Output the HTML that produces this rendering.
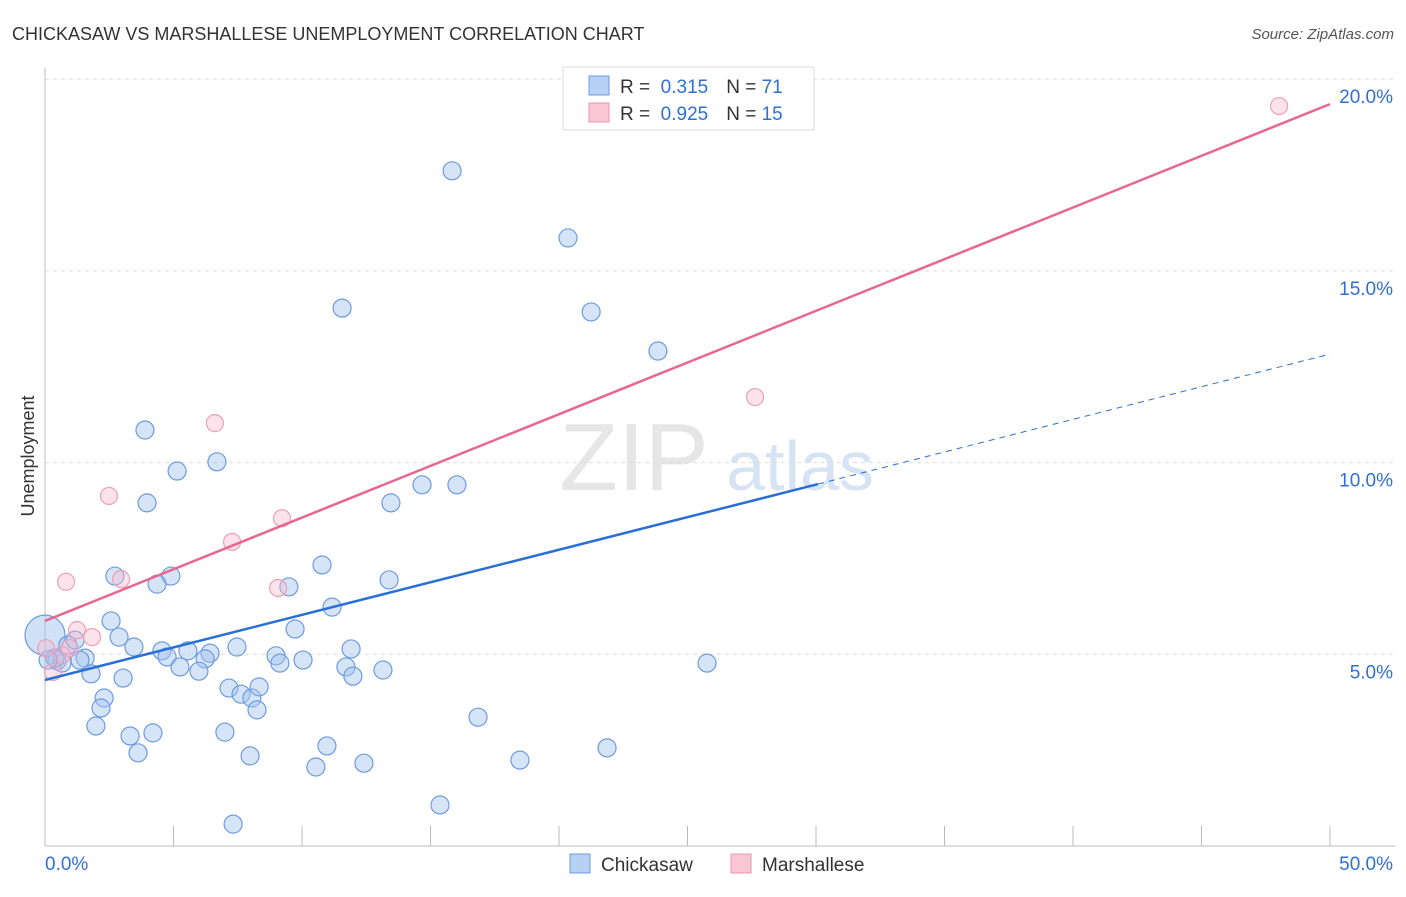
<!DOCTYPE html>
<html><head><meta charset="utf-8"><style>
body{margin:0;background:#fff;font-family:"Liberation Sans",sans-serif}
svg text{font-family:"Liberation Sans",sans-serif}
</style></head><body>
<svg id="c" width="1406" height="892">
<text x="12" y="40" font-size="18" fill="#333">CHICKASAW VS MARSHALLESE UNEMPLOYMENT CORRELATION CHART</text>
<text x="1394" y="39" font-size="15" fill="#555" font-style="italic" text-anchor="end">Source: ZipAtlas.com</text>
<text x="634" y="490" font-size="96" fill="#e6e6e6" font-family="Liberation Serif" text-anchor="middle">ZIP</text>
<text x="800" y="490" font-size="70" fill="#d6e3f5" text-anchor="middle">atlas</text>
<text x="34" y="456" font-size="18" fill="#333" text-anchor="middle" transform="rotate(-90 34 456)">Unemployment</text>
<g id="grid"></g><g id="marks"></g>
<g>
<rect x="563" y="67" width="251" height="63" fill="#fff" stroke="#ddd"/>
<rect x="589" y="76" width="20" height="19" fill="#b7d0f4" stroke="#6d9be0"/>
<rect x="589" y="103" width="20" height="19" fill="#f9c6d5" stroke="#e997b1"/>
<text x="620" y="93" font-size="19" fill="#333">R = <tspan fill="#2f6fd6">&#160;0.315</tspan><tspan dx="18">N = </tspan><tspan fill="#2f6fd6">71</tspan></text>
<text x="620" y="120" font-size="19" fill="#333">R = <tspan fill="#2f6fd6">&#160;0.925</tspan><tspan dx="18">N = </tspan><tspan fill="#2f6fd6">15</tspan></text>
</g>
<g>
<rect x="570" y="854" width="20" height="19" fill="#b7d0f4" stroke="#6d9be0"/>
<text x="601" y="871" font-size="19" fill="#333">Chickasaw</text>
<rect x="731" y="854" width="20" height="19" fill="#f9c6d5" stroke="#e997b1"/>
<text x="762" y="871" font-size="19" fill="#333">Marshallese</text>
</g>
</svg>
<script>
const blueX=[15.84,20.35,11.56,21.25,23.85,3.89,5.14,6.69,3.97,13.46,14.67,16.03,2.72,4.90,4.36,9.49,10.78,13.39,11.17,2.57,2.88,3.46,9.73,11.91,7.47,4.55,5.56,6.42,4.75,6.23,5.25,5.99,8.99,9.14,10.04,11.71,11.98,13.15,25.76,0.89,1.17,0.47,0.66,1.56,1.36,1.79,3.04,2.30,2.18,7.16,7.63,8.05,8.33,8.25,1.98,3.31,4.20,7.00,3.62,7.98,10.97,10.54,12.41,16.85,18.48,21.87,15.37,7.32,0.39,0.12];
const blueY=[17.61,15.86,14.03,13.93,12.91,10.85,9.78,10.02,8.95,8.95,9.42,9.42,7.04,7.04,6.83,6.76,7.33,6.94,6.23,5.87,5.45,5.19,5.66,5.14,5.19,5.09,5.09,5.03,4.93,4.88,4.67,4.56,4.96,4.77,4.85,4.67,4.43,4.59,4.77,5.24,5.37,4.83,4.77,4.90,4.85,4.49,4.38,3.86,3.60,4.12,3.96,3.86,4.15,3.55,3.13,2.87,2.95,2.97,2.43,2.35,2.61,2.06,2.16,3.36,2.24,2.56,1.07,0.57,4.90,4.85];
const pinkX=[48.02,27.63,6.61,2.49,9.22,7.28,0.82,2.96,9.07,1.25,1.83,0.97,0.04,0.31,0.66];
const pinkY=[19.30,11.71,11.03,9.13,8.55,7.93,6.89,6.96,6.73,5.63,5.45,5.16,5.16,4.54,4.98];
const yTicks=[5,10,15,20];
const xTicks=[0,5,10,15,20,25,30,35,40,45,50];
const blueLine=[4.33,9.44,12.83]; // y at x=0, solid end, x=50
const blueSolidEnd=30.08;
const pinkLine=[5.87,19.35];
const NS="http://www.w3.org/2000/svg";
const sx=v=>45+v*25.7, sy=v=>846-v*38.34;
function mk(t,a,p){const e=document.createElementNS(NS,t);for(const k in a)e.setAttribute(k,a[k]);p.appendChild(e);return e;}
const g=document.getElementById('grid'),m=document.getElementById('marks');
yTicks.forEach(t=>{
 const l=mk('line',{x1:45,x2:1395,y1:sy(t),y2:sy(t),stroke:'#ddd','stroke-dasharray':'4,4'},g);
 
 
 const tx=mk('text',{x:1393,y:sy(t)+24,'font-size':19,fill:'#2f6fd6','text-anchor':'end'},g);tx.textContent=t.toFixed(1)+'%';
 
 
});
xTicks.forEach(t=>{
 const l=mk('line',{x1:sx(t),x2:sx(t),y1:826,y2:846,stroke:'#bbb'},g);
 
 
});
mk('line',{x1:45,x2:1395,y1:846,y2:846,stroke:'#bbb'},g);
mk('line',{x1:45,x2:45,y1:68,y2:846,stroke:'#bbb'},g);
[[0,'start',45],[50,'end',1393]].forEach(([v,a,x])=>{const t=mk('text',{x:x,y:870,'font-size':19,fill:'#2f6fd6','text-anchor':a},g);t.textContent=v.toFixed(1)+'%';
 
 });
// big circle
const big=mk('circle',{cx:sx(0),cy:sy(5.5),r:20,fill:'rgba(164,196,240,0.5)',stroke:'#6d9be0','stroke-width':1.2},m);


blueX.forEach((x,i)=>{const c=mk('circle',{cx:sx(x),cy:sy(blueY[i]),r:9,fill:'rgba(164,196,240,0.45)',stroke:'#6d9be0','stroke-width':1.2},m);
 
 });
pinkX.forEach((x,i)=>{const c=mk('circle',{cx:sx(x),cy:sy(pinkY[i]),r:8.5,fill:'rgba(248,185,205,0.4)',stroke:'#ec9fb8','stroke-width':1.2},m);
 
 });
let l=mk('line',{x1:sx(0),y1:sy(blueLine[0]),x2:sx(blueSolidEnd),y2:sy(blueLine[1]),stroke:'#2a6fd6','stroke-width':2.5},m);


l=mk('line',{x1:sx(blueSolidEnd),y1:sy(blueLine[1]),x2:sx(50),y2:sy(blueLine[2]),stroke:'#2a6fd6','stroke-width':1,'stroke-dasharray':'6,5'},m);


l=mk('line',{x1:sx(0),y1:sy(pinkLine[0]),x2:sx(50),y2:sy(pinkLine[1]),stroke:'#e8668f','stroke-width':2.5},m);


</script>
</body></html>
